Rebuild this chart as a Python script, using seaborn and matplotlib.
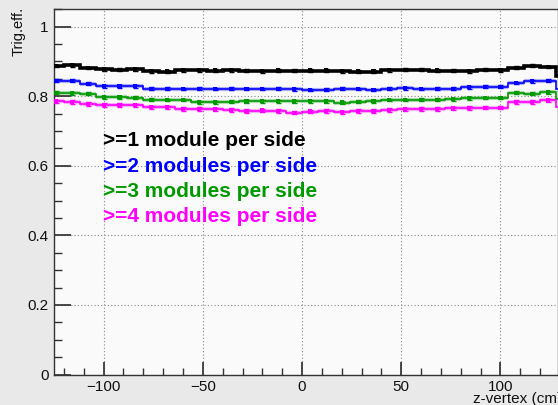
import numpy as np
import pandas as pd
import seaborn as sns
import matplotlib.pyplot as plt
import matplotlib.ticker as ticker

# bin edges of the z-vertex histograms (8 cm bins)
edges = np.arange(-128, 129, 8)
centers = (edges[:-1] + edges[1:]) / 2
# partly visible bin past the right edge
edge_last = [128, 136]

eff_1mod = [0.887, 0.889, 0.881, 0.877, 0.876, 0.877, 0.872, 0.871, 0.875, 0.875, 0.874,
            0.875, 0.873, 0.872, 0.874, 0.873, 0.874, 0.874, 0.872, 0.871, 0.871, 0.875,
            0.876, 0.876, 0.874, 0.873, 0.872, 0.876, 0.875, 0.882, 0.888, 0.884]
eff_2mod = [0.845, 0.845, 0.836, 0.829, 0.829, 0.829, 0.822, 0.822, 0.821, 0.822, 0.821,
            0.822, 0.821, 0.821, 0.822, 0.820, 0.818, 0.819, 0.822, 0.821, 0.818, 0.822,
            0.823, 0.821, 0.822, 0.822, 0.826, 0.827, 0.827, 0.838, 0.843, 0.845]
eff_3mod = [0.810, 0.809, 0.807, 0.797, 0.797, 0.796, 0.790, 0.789, 0.789, 0.783, 0.783,
            0.784, 0.785, 0.786, 0.786, 0.785, 0.786, 0.785, 0.782, 0.784, 0.786, 0.789,
            0.789, 0.790, 0.790, 0.791, 0.794, 0.795, 0.795, 0.810, 0.807, 0.811]
eff_4mod = [0.785, 0.784, 0.778, 0.775, 0.775, 0.774, 0.768, 0.768, 0.764, 0.763, 0.762,
            0.760, 0.758, 0.759, 0.757, 0.753, 0.756, 0.757, 0.754, 0.757, 0.757, 0.761,
            0.762, 0.764, 0.764, 0.765, 0.766, 0.767, 0.767, 0.783, 0.784, 0.788]
eff_last = [0.857, 0.822, 0.792, 0.768]
errors = [0.004, 0.004, 0.004, 0.005]

labels = [">=1 module per side", ">=2 modules per side",
          ">=3 modules per side", ">=4 modules per side"]
colors = ["#000000", "#0000ff", "#009900", "#ff00ff"]

series = [eff_1mod, eff_2mod, eff_3mod, eff_4mod]
df = pd.concat(
    [pd.DataFrame({"z": centers, "eff": s, "err": e, "cut": lab})
     for s, e, lab in zip(series, errors, labels)],
    ignore_index=True,
)

sns.set_theme(style="ticks")
plt.rcParams["font.family"] = ["Liberation Sans", "DejaVu Sans"]

fig = plt.figure(figsize=(5.58, 4.05), dpi=100, facecolor="#e9e9e9")
ax = fig.add_axes([0.0968, 0.0753, 0.9032, 0.9017])
ax.set_facecolor("#fafafa")

for lab, col, last in zip(labels, colors, eff_last):
    d = df[df["cut"] == lab]
    lw = 2.6 if lab == labels[0] else 1.2
    vals = np.append(d["eff"].values, last)
    ax.stairs(vals, np.append(edges, edge_last[1]), color=col, lw=lw, zorder=3)
    if lab != labels[0]:
        ax.hlines(d["eff"], d["z"] - 4, d["z"] + 4, color=col, lw=3, alpha=0.3, zorder=2)
    ax.errorbar(d["z"], d["eff"], yerr=d["err"], fmt="none", ecolor=col,
                elinewidth=1.0 if lab != labels[0] else 1.6, capsize=1.8, zorder=4)

sns.scatterplot(data=df, x="z", y="eff", hue="cut", palette=colors, marker="s",
                s=9, linewidth=0, legend=False, ax=ax, zorder=5)

ax.set_xlim(-125, 129)
ax.set_ylim(0, 1.05)
ax.set_xlabel("")
ax.set_ylabel("")

ax.xaxis.set_major_locator(ticker.MultipleLocator(50))
ax.xaxis.set_minor_locator(ticker.MultipleLocator(10))
ax.yaxis.set_major_locator(ticker.MultipleLocator(0.2))
ax.yaxis.set_minor_locator(ticker.MultipleLocator(0.05))
ax.yaxis.set_major_formatter(ticker.FuncFormatter(lambda v, pos: f"{v:g}"))

ax.tick_params(axis="both", which="both", direction="in", color="#333333",
               labelsize=11, labelcolor="#111111", top=False, right=False)
ax.tick_params(axis="x", which="major", length=9.4, pad=4)
ax.tick_params(axis="x", which="minor", length=4.7)
ax.tick_params(axis="y", which="major", length=12, pad=4)
ax.tick_params(axis="y", which="minor", length=6)

ax.grid(True, which="major", color="#888888", linestyle=(0, (1, 2)), lw=0.8)
for sp in ax.spines.values():
    sp.set_color("#333333")
    sp.set_linewidth(1.0)

y_text = [0.672, 0.598, 0.526, 0.455]
for lab, col, yt in zip(labels, colors, y_text):
    ax.text(-100.5, yt, lab, color=col, fontsize=15, fontweight="bold",
            ha="left", va="center", zorder=6)

fig.text(19 / 558, 1 - 7 / 405, "Trig.eff.", rotation=90, ha="center", va="top",
         fontsize=10.5, color="#111111")
fig.text(473 / 558, 1 - 399 / 405, "z-vertex (cm)", ha="left", va="center",
         fontsize=11, color="#111111")

fig.savefig("out.png", dpi=100, facecolor=fig.get_facecolor())
